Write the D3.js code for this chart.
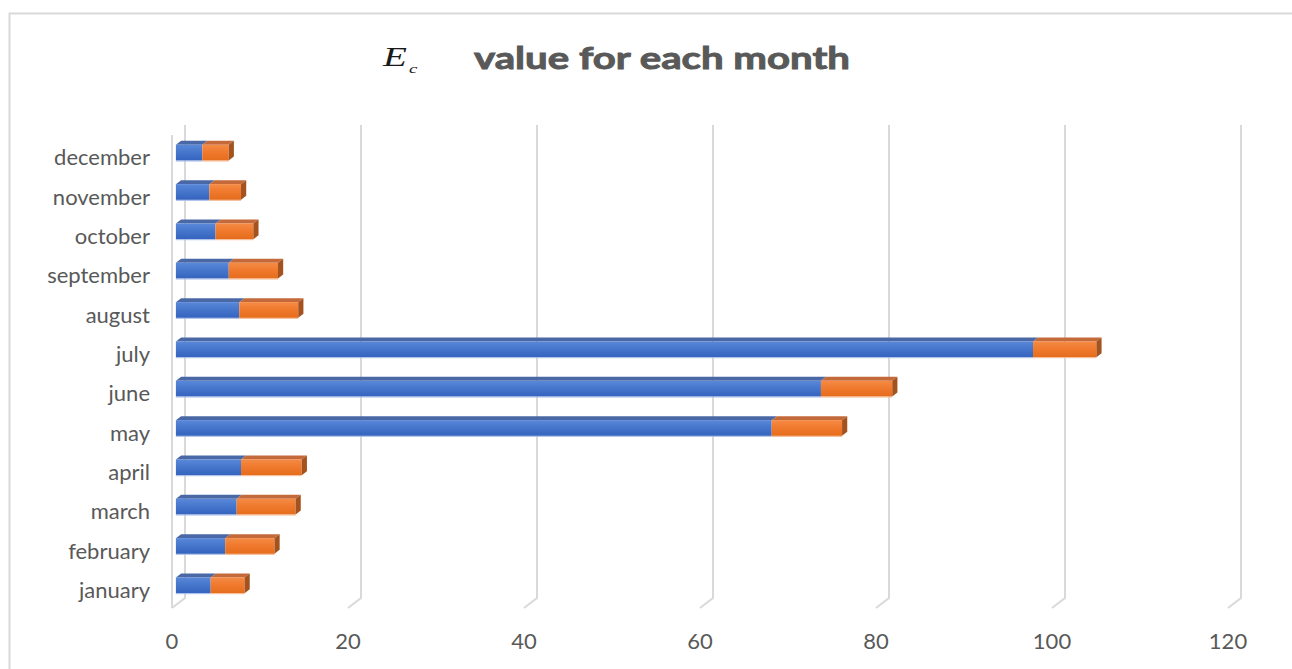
<!DOCTYPE html>
<html>
<head>
<meta charset="utf-8">
<script src="https://cdn.jsdelivr.net/npm/d3@7"></script>
<style>
  html, body { margin: 0; padding: 0; background: #fff; }
  svg { display: block; }
  text { font-family: Lato, "Open Sans", sans-serif; fill: #595959; }
</style>
</head>
<body>
<svg id="chart" width="1292" height="669"></svg>
<script>
// ---- data ----
const months = ["january","february","march","april","may","june","july","august","september","october","november","december"];
const seriesNames = ["Series1","Series2"];
const series1 = [3.95, 5.6, 6.9, 7.4, 67.7, 73.3, 97.4, 7.2, 6.0, 4.5, 3.8, 3.0];
const series2 = [3.85, 5.6, 6.7, 6.9, 8.0, 8.1, 7.2, 6.7, 5.6, 4.3, 3.6, 3.0];
const tickValues = [0, 20, 40, 60, 80, 100, 120];
const titleText = "value for each month";

// ---- layout ----
const W = 1292, H = 669;
const svg = d3.select("#chart");

const x = d3.scaleLinear().domain([0, 120]).range([172, 1228]);
const y = d3.scaleBand().domain(months).range([608, 136]).paddingInner(0.6).paddingOuter(0.3);
const depth = { dx: 13, dy: -10 };
const fFront = 0.3, fBack = 0.7;
const off = f => ({ dx: depth.dx * f, dy: depth.dy * f });

// gradients
const defs = svg.append("defs");
function grad(id, stops) {
  const g = defs.append("linearGradient").attr("id", id).attr("x1", 0).attr("y1", 0).attr("x2", 0).attr("y2", 1);
  stops.forEach(s => g.append("stop").attr("offset", s[0]).attr("stop-color", s[1]));
}
grad("gBlue", [[0, "#5a88da"], [0.45, "#4677cc"], [1, "#3563bf"]]);
grad("gOrange", [[0, "#f58b45"], [0.45, "#f07a2e"], [1, "#e56c1c"]]);

const colors = {
  Series1: { front: "url(#gBlue)", top: "#4a68a6", side: "#2f4f8f", edge: "#a7bde8" },
  Series2: { front: "url(#gOrange)", top: "#c4693a", side: "#a4531f", edge: "#f6b88e" }
};

// chart border
svg.append("path")
  .attr("d", `M9.5,${H} L9.5,13.5 L${W},13.5`)
  .attr("fill", "none").attr("stroke", "#d9d9d9").attr("stroke-width", 2);

// gridlines (back wall + floor slant)
const grid = svg.append("g").attr("stroke", "#d9d9d9").attr("stroke-width", 2).attr("fill", "none");
const topBack = 125, botBack = 598;
tickValues.forEach(v => {
  const xf = x(v), xb = x(v) + depth.dx;
  grid.append("path").attr("d", `M${xb},${topBack} L${xb},${botBack} L${xf},${botBack - depth.dy}`);
});
// side wall front edge at 0
grid.append("line")
  .attr("x1", x(0)).attr("x2", x(0))
  .attr("y1", topBack - depth.dy).attr("y2", botBack - depth.dy);

// stacked data
const rows = months.map((m, i) => ({ month: m, Series1: series1[i], Series2: series2[i] }));
const stacked = d3.stack().keys(seriesNames)(rows);

const f = off(fFront), b = off(fBack);
const bars = svg.append("g");
const bw = y.bandwidth();

months.forEach((m, i) => {
  const y0 = y(m), y1 = y(m) + bw;
  stacked.forEach((layer, si) => {
    const c = colors[layer.key];
    const v0 = layer[i][0], v1 = layer[i][1];
    const x0 = x(v0), x1 = x(v1);
    // top face
    bars.append("path")
      .attr("d", `M${x0 + f.dx},${y0 + f.dy} L${x1 + f.dx},${y0 + f.dy} L${x1 + b.dx},${y0 + b.dy} L${x0 + b.dx},${y0 + b.dy} Z`)
      .attr("fill", c.top);
    // front face
    bars.append("rect")
      .attr("x", x0 + f.dx).attr("y", y0 + f.dy)
      .attr("width", Math.max(0, x1 - x0)).attr("height", bw)
      .attr("fill", c.front);
    // light bottom edge
    bars.append("line")
      .attr("x1", x0 + f.dx).attr("x2", x1 + f.dx)
      .attr("y1", y1 + f.dy + 0.5).attr("y2", y1 + f.dy + 0.5)
      .attr("stroke", c.edge).attr("stroke-width", 1);
    // right side face on the last segment
    if (si === stacked.length - 1) {
      bars.append("path")
        .attr("d", `M${x1 + f.dx},${y0 + f.dy} L${x1 + b.dx},${y0 + b.dy} L${x1 + b.dx},${y1 + b.dy} L${x1 + f.dx},${y1 + f.dy} Z`)
        .attr("fill", c.side);
    }
  });
});

// category labels
svg.append("g").selectAll("text").data(months).join("text")
  .attr("x", 150)
  .attr("y", d => y(d) + bw / 2 + 1)
  .attr("text-anchor", "end")
  .attr("dominant-baseline", "central")
  .attr("font-size", 22)
  .text(d => d);

// value axis tick labels
svg.append("g").selectAll("text").data(tickValues).join("text")
  .attr("x", d => x(d))
  .attr("y", 640)
  .attr("text-anchor", "middle")
  .attr("dominant-baseline", "central")
  .attr("font-size", 22)
  .text(d => d);

// title
const tg = svg.append("g");
const eSym = tg.append("g").attr("transform", "translate(383,0) scale(1.45,1)")
  .append("text")
  .attr("x", 0).attr("y", 66)
  .style("font-family", "'Liberation Serif', 'DejaVu Serif', serif")
  .style("font-style", "italic")
  .style("fill", "#1a1a1a")
  .attr("font-size", 27);
eSym.append("tspan").text("E");
eSym.append("tspan").attr("dx", 1.5).attr("dy", 7).attr("font-size", 13).text("c");

tg.append("text")
  .attr("x", 474).attr("y", 69)
  .attr("font-size", 31)
  .attr("font-weight", "bold")
  .attr("textLength", 376)
  .attr("lengthAdjust", "spacingAndGlyphs")
  .style("stroke", "#595959")
  .style("stroke-width", 0.9)
  .text(titleText);
</script>
</body>
</html>
